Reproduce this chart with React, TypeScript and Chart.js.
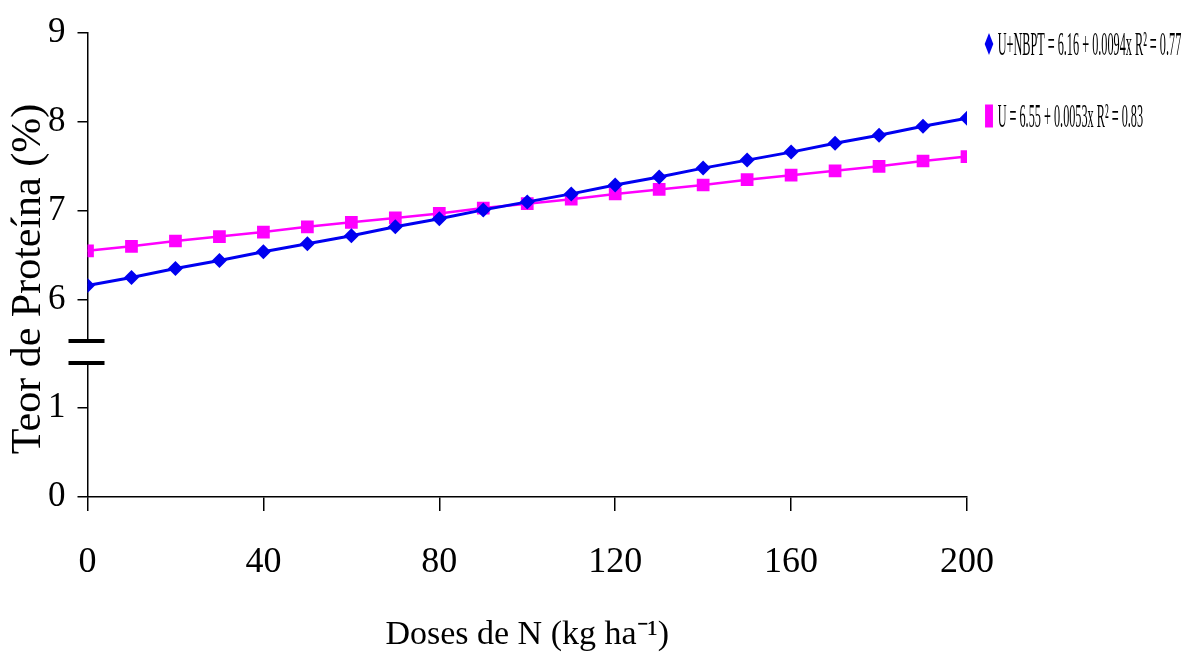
import React, { useEffect, useRef } from "react";
import { Chart, registerables } from "chart.js";

Chart.register(...registerables);

// ---- data ----
const doses = [0, 10, 20, 30, 40, 50, 60, 70, 80, 90, 100, 110, 120, 130, 140, 150, 160, 170, 180, 190, 200];
const uNbpt = [6.16, 6.25, 6.35, 6.44, 6.54, 6.63, 6.72, 6.82, 6.91, 7.01, 7.1, 7.19, 7.29, 7.38, 7.48, 7.57, 7.66, 7.76, 7.85, 7.95, 8.04];
const uOnly = [6.55, 6.6, 6.66, 6.71, 6.76, 6.82, 6.87, 6.92, 6.97, 7.03, 7.08, 7.13, 7.19, 7.24, 7.29, 7.35, 7.4, 7.45, 7.5, 7.56, 7.61];
const seriesLabels = ["U+NBPT = 6.16 + 0.0094x R² = 0.77", "U = 6.55 + 0.0053x R² = 0.83"];
const seriesColors = ["#0000f0", "#ff00ff"];
const seriesPointStyles = ["rectRot", "rect"];
const xTicks = [0, 40, 80, 120, 160, 200];
const yTicks = [0, 1, 6, 7, 8, 9];
const xTitle = "Doses de N (kg ha⁻¹)";
const yTitle = "Teor de Proteína (%)";

// broken y axis: values between breakLow and breakHigh are removed
const breakLow = 1.63;
const breakHigh = 5.41;
const yMaxReal = 9;
const gap = breakHigh - breakLow;
const toAxis = (v: number) => (v <= breakLow ? v : v - gap);
const fromAxis = (v: number) => (v <= breakLow + 1e-9 ? v : v + gap);

const FONT = '"Liberation Serif", "Times New Roman", serif';

const breakPlugin = {
  id: "axisBreak",
  afterDraw(chart: any) {
    const ctx = chart.ctx;
    const y = chart.scales.y;
    const left = chart.chartArea.left;
    const b = y.getPixelForValue(breakLow);
    ctx.save();
    ctx.fillStyle = "#ffffff";
    ctx.fillRect(left - 3, b - 11, 6, 22);
    ctx.strokeStyle = "#000";
    ctx.lineWidth = 4;
    ctx.beginPath();
    ctx.moveTo(left - 19, b - 11);
    ctx.lineTo(left + 17, b - 11);
    ctx.moveTo(left - 19, b + 11);
    ctx.lineTo(left + 17, b + 11);
    ctx.stroke();
    // y-axis title
    ctx.translate(29, (chart.chartArea.top + chart.chartArea.bottom) / 2 + 14);
    ctx.rotate(-Math.PI / 2);
    ctx.fillStyle = "#000";
    ctx.font = `42px ${FONT}`;
    ctx.textAlign = "center";
    ctx.textBaseline = "middle";
    ctx.fillText(yTitle, 0, 0);
    ctx.restore();
  },
};

const legendPlugin = {
  id: "eqLegend",
  afterDraw(chart: any) {
    const ctx = chart.ctx;
    const x0 = chart.chartArea.right + 22;
    const rowY = [44, 116];
    chart.data.datasets.forEach((ds: any, i: number) => {
      ctx.save();
      ctx.translate(x0, rowY[i]);
      ctx.scale(0.36, 1);
      ctx.fillStyle = ds.borderColor;
      ctx.beginPath();
      if (ds.pointStyle === "rectRot") {
        ctx.moveTo(0, -11);
        ctx.lineTo(12, 0);
        ctx.lineTo(0, 11);
        ctx.lineTo(-12, 0);
        ctx.closePath();
      } else {
        ctx.rect(-11, -11.5, 22, 23);
      }
      ctx.fill();
      ctx.fillStyle = "#000";
      ctx.font = `34px ${FONT}`;
      ctx.textBaseline = "middle";
      ctx.fillText(ds.label, 24, 2);
      ctx.restore();
    });
  },
};

export default function App() {
  const ref = useRef<HTMLCanvasElement | null>(null);

  useEffect(() => {
    if (!ref.current) return;
    const mk = (vals: number[]) => doses.map((d, i) => ({ x: d, y: toAxis(vals[i]) }));
    const chart = new Chart(ref.current, {
      type: "line",
      data: {
        datasets: [
          {
            label: seriesLabels[0],
            data: mk(uNbpt),
            borderColor: seriesColors[0],
            backgroundColor: seriesColors[0],
            borderWidth: 3,
            pointStyle: seriesPointStyles[0] as any,
            pointRadius: 7.5,
            pointBorderWidth: 0,
            tension: 0,
          },
          {
            label: seriesLabels[1],
            data: mk(uOnly),
            borderColor: seriesColors[1],
            backgroundColor: seriesColors[1],
            borderWidth: 2.5,
            pointStyle: seriesPointStyles[1] as any,
            pointRadius: 9,
            pointBorderWidth: 0,
            tension: 0,
          },
        ],
      },
      options: {
        responsive: false,
        devicePixelRatio: 1,
        animation: false,
        layout: { padding: { top: 29, right: 232, bottom: 4, left: 36 } },
        plugins: {
          legend: { display: false },
          tooltip: { enabled: false },
        },
        scales: {
          x: {
            type: "linear",
            min: 0,
            max: 200,
            afterBuildTicks: (s: any) => {
              s.ticks = xTicks.map((v) => ({ value: v }));
            },
            ticks: { color: "#000", font: { family: FONT, size: 36 }, padding: 30, maxRotation: 0 },
            grid: { drawOnChartArea: false, drawTicks: true, tickLength: 14, color: "#000", lineWidth: 1.5 },
            border: { display: true, color: "#000", width: 1.5 },
            title: {
              display: true,
              text: xTitle,
              color: "#000",
              font: { family: FONT, size: 34 },
              padding: { top: 0, bottom: 0 },
            },
          },
          y: {
            type: "linear",
            min: 0,
            max: toAxis(yMaxReal),
            afterBuildTicks: (s: any) => {
              s.ticks = yTicks.map((v) => ({ value: toAxis(v) }));
            },
            ticks: {
              color: "#000",
              font: { family: FONT, size: 35 },
              padding: 12,
              callback: (v: any) => String(Math.round(fromAxis(Number(v)))),
            },
            grid: { drawOnChartArea: false, drawTicks: true, tickLength: 10, color: "#000", lineWidth: 1.5 },
            border: { display: true, color: "#000", width: 1.5 },
          },
        },
      },
      plugins: [breakPlugin, legendPlugin],
    });
    return () => chart.destroy();
  }, []);

  return (
    <div style={{ position: "fixed", left: 0, top: 0, width: 1199, height: 659, background: "#fff" }}>
      <canvas ref={ref} width={1199} height={659} />
    </div>
  );
}
